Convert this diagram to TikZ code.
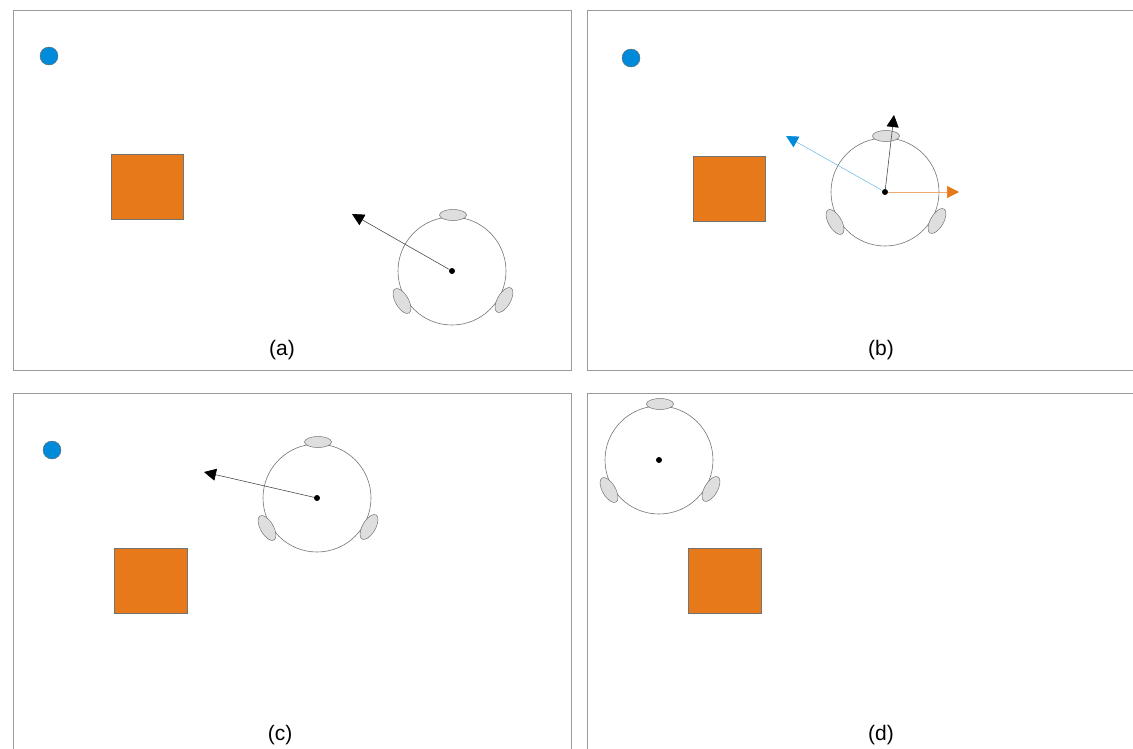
\documentclass[tikz,border=0pt]{standalone}
\usepackage{fontspec}
\setmainfont{Liberation Sans}
\usetikzlibrary{arrows.meta}
\definecolor{BallBlue}{RGB}{0, 139, 218}
\definecolor{LineBlue}{RGB}{120, 190, 232}
\definecolor{BoxOrange}{RGB}{232, 121, 26}
\definecolor{LineOrange}{RGB}{240, 170, 110}
\definecolor{WheelGrey}{RGB}{222, 222, 222}
\definecolor{FrameGrey}{RGB}{155, 155, 155}

\tikzset{
  panel/.style={draw=FrameGrey, line width=0.9pt},
  ball/.style={circle, draw=black!60, fill=BallBlue, line width=0.4pt, inner sep=0pt, minimum size=18pt},
  box/.style={draw=black!55, fill=BoxOrange, line width=0.5pt},
  wheel/.style={draw=black!55, fill=WheelGrey, line width=0.5pt},
  hub/.style={circle, fill=black, inner sep=0pt, minimum size=6pt},
  caption/.style={font=\fontsize{21}{25}\selectfont},
  heading/.style={draw=black!70, line width=0.6pt, -{Triangle[length=12pt, width=12pt, fill=black, color=black]}},
  robot/.pic={
    \draw[black!55, line width=0.6pt] (0,0) circle (54);
    % wheels
    \draw[wheel] (1,-56) ellipse (13.5 and 5.5);
    \draw[wheel, shift={(-50,30)}, rotate=120] (0,0) ellipse (14 and 6.5);
    \draw[wheel, shift={(52,29)}, rotate=60] (0,0) ellipse (14 and 6.5);
    \node[hub] (-c) at (0,0) {};
  }
}

\begin{document}
\begin{tikzpicture}[x=1pt, y=-1pt]
    \path[use as bounding box, clip] (0,0) rectangle (1133,748);

    % Panel frames
    \draw[panel] (13,10) rectangle (571,370);
    \draw[panel] (587,10) rectangle (1145,370);
    \draw[panel] (13,393) rectangle (571,760);
    \draw[panel] (587,393) rectangle (1145,760);

    % (a)
    \node[ball] (ba) at (49,56) {};
    \draw[box] (111,154) rectangle (183,219);
    \pic (ra) at (452,271) {robot};
    \coordinate (ta) at (352,214);
    \draw[heading] (ra-c) -- (ta);
    \node[caption] (la) at (282,350) {(a)};

    % (b)
    \node[ball] (bb) at (631,58) {};
    \draw[box] (693,156) rectangle (765,221);
    \pic (rb) at (885,192) {robot};
    \coordinate (tb1) at (894,115);
    \coordinate (tb2) at (786,136);
    \coordinate (tb3) at (959,192);
    \draw[heading, draw=LineBlue, -{Triangle[length=12pt, width=12pt, fill=BallBlue, color=BallBlue]}] (rb-c) -- (tb2);
    \draw[heading, draw=LineOrange, -{Triangle[length=12pt, width=12pt, fill=BoxOrange, color=BoxOrange]}] (rb-c) -- (tb3);
    \draw[heading] (rb-c) -- (tb1);
    \node[caption] (lb) at (881,350) {(b)};

    % (c)
    \node[ball] (bc) at (52,450) {};
    \draw[box] (114,548) rectangle (187,613);
    \pic (rc) at (317,498) {robot};
    \coordinate (tc) at (204,472);
    \draw[heading] (rc-c) -- (tc);
    \node[caption] (lc) at (280,735) {(c)};

    % (d)
    \draw[box] (688,548) rectangle (761,613);
    \pic (rd) at (659,460) {robot};
    \node[caption] (ld) at (881,735) {(d)};
\end{tikzpicture}
\end{document}
